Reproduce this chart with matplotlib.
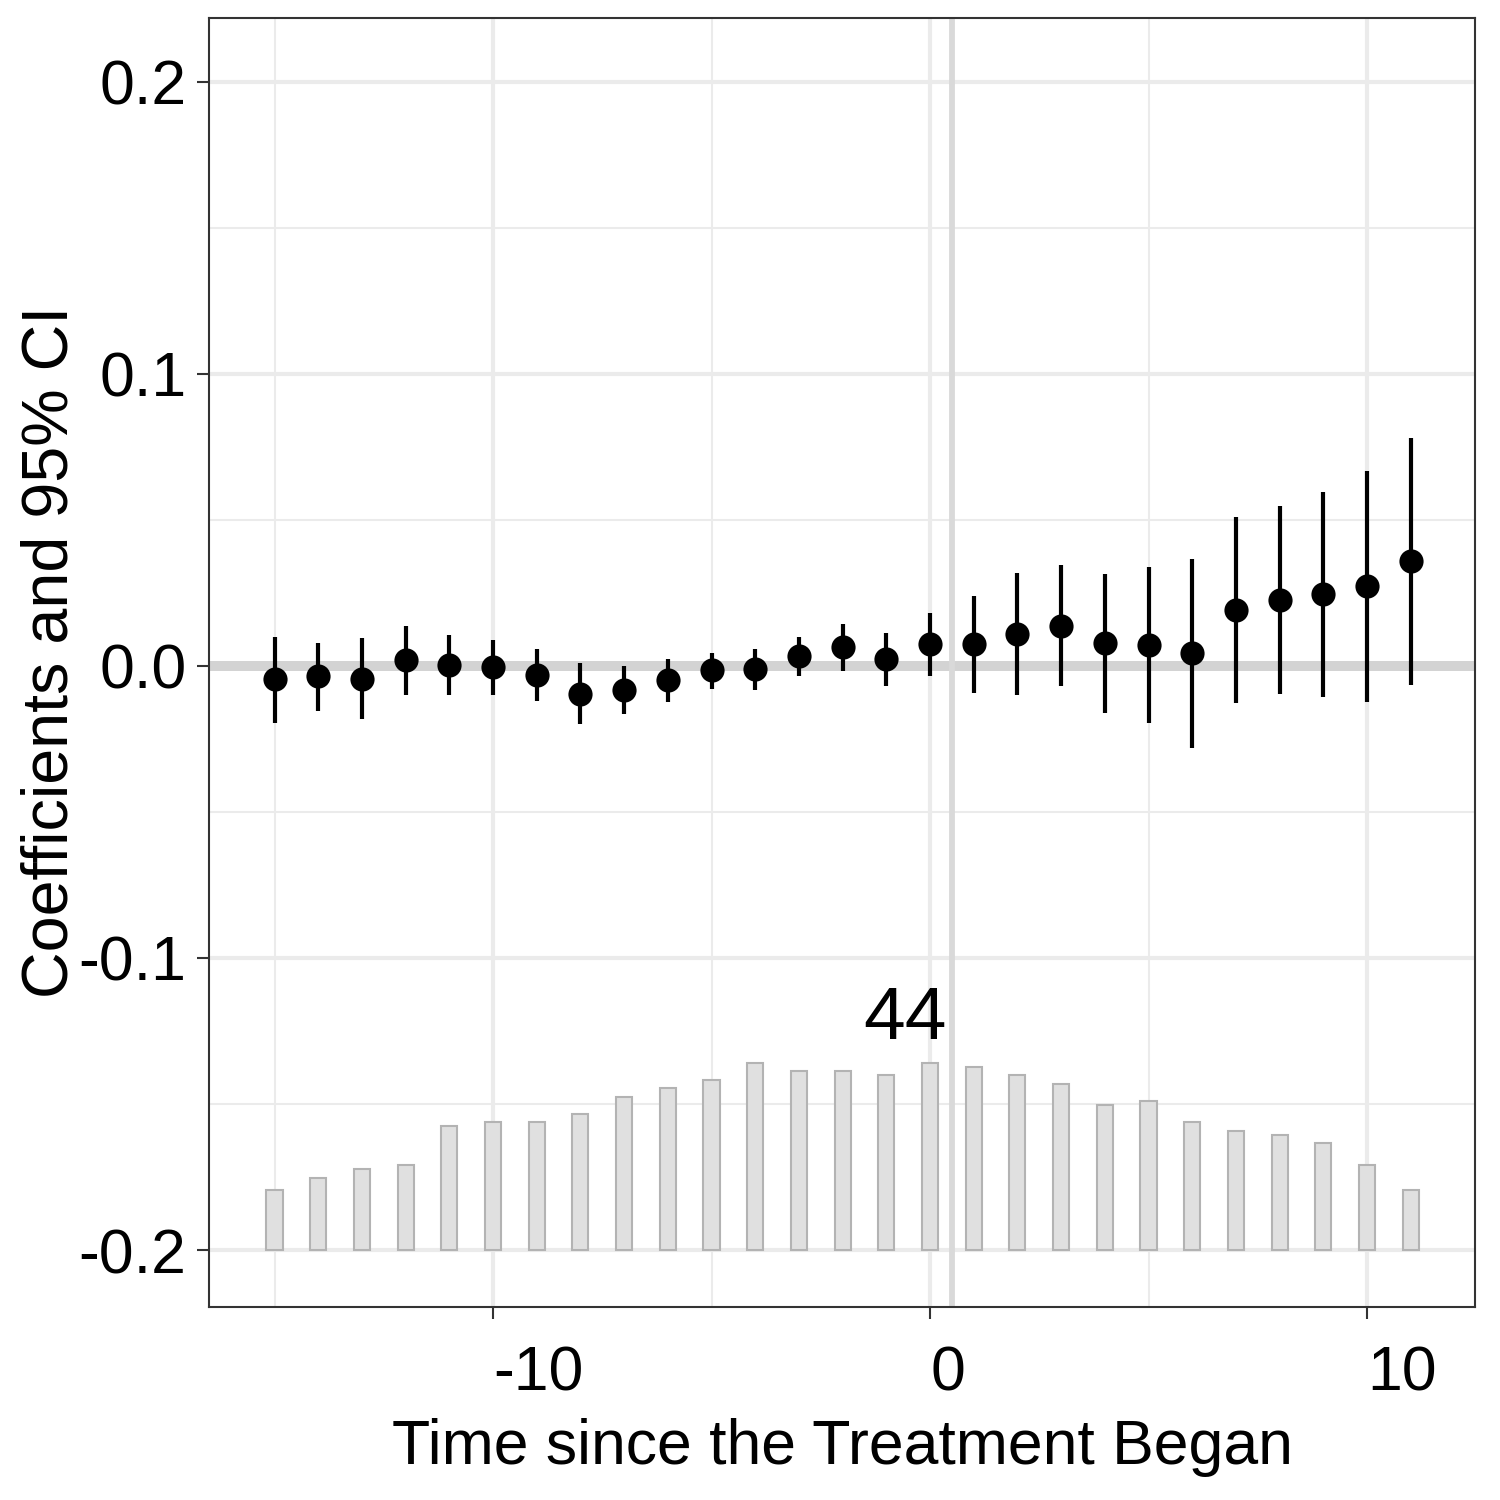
import matplotlib
matplotlib.use("Agg")
import matplotlib.pyplot as plt
import numpy as np

plt.rcParams['font.family'] = ['Liberation Sans', 'DejaVu Sans']

# ---- data ----
time = list(range(-15, 12))
coef = [-0.0045, -0.0036, -0.0043, 0.0019, 0.0003, -0.0004, -0.0031, -0.0095, -0.0081, -0.0048,
        -0.0014, -0.0011, 0.0033, 0.0065, 0.0023, 0.0075, 0.0075, 0.0110, 0.0138, 0.0078,
        0.0073, 0.0043, 0.0192, 0.0226, 0.0246, 0.0273, 0.0359]
ci_upper = [0.0100, 0.0079, 0.0096, 0.0138, 0.0106, 0.0088, 0.0058, 0.0010, 0.0000, 0.0025,
            0.0045, 0.0058, 0.0099, 0.0145, 0.0113, 0.0180, 0.0240, 0.0318, 0.0346, 0.0315,
            0.0340, 0.0366, 0.0511, 0.0548, 0.0597, 0.0669, 0.0782]
ci_lower = [-0.0194, -0.0153, -0.0183, -0.0098, -0.0101, -0.0098, -0.0121, -0.0199, -0.0163, -0.0123,
            -0.0078, -0.0083, -0.0033, -0.0016, -0.0067, -0.0033, -0.0091, -0.0098, -0.0068, -0.0162,
            -0.0194, -0.0280, -0.0128, -0.0095, -0.0106, -0.0123, -0.0065]
counts = [14, 17, 19, 20, 29, 30, 30, 32, 36, 38, 40, 44, 42, 42, 41, 44, 43, 41, 39, 34,
          35, 30, 28, 27, 25, 20, 14]
max_count_label = "44"

x_ticks = [-10, 0, 10]
x_tick_labels = ["-10", "0", "10"]
y_ticks = [-0.2, -0.1, 0.0, 0.1, 0.2]
y_tick_labels = ["-0.2", "-0.1", "0.0", "0.1", "0.2"]

# ---- figure ----
fig = plt.figure(figsize=(5, 5), dpi=300)
ax = fig.add_axes([0.1393, 0.1287, 0.844, 0.8593])

xlim = (-16.5, 12.47)
ylim = (-0.2195, 0.2219)

# grid
grid_major = '#EBEBEB'
for v in [-0.15, -0.05, 0.05, 0.15]:
    ax.axhline(v, color=grid_major, lw=0.5, zorder=0)
for v in [-15, -5, 5]:
    ax.axvline(v, color=grid_major, lw=0.5, zorder=0)
for v in y_ticks:
    ax.axhline(v, color=grid_major, lw=1.0, zorder=0)
for v in x_ticks:
    ax.axvline(v, color=grid_major, lw=1.0, zorder=0)

# reference lines
ax.axhline(0, color='#D3D3D3', lw=2.4, zorder=1)
ax.axvline(0.5, color='#D9D9D9', lw=1.4, zorder=1)

# count bars
bar_base = -0.2
bar_scale = 0.0642 / 44
heights = [c * bar_scale for c in counts]
ax.bar(time, heights, bottom=bar_base, width=0.37, color='#E0E0E0',
       edgecolor='#B3B3B3', linewidth=0.5, zorder=2)
ax.text(-0.57, bar_base + max(heights) + 0.0149, max_count_label, ha='center', va='center',
        fontsize=18, color='black', zorder=3)

# coefficients and CI
ax.vlines(time, ci_lower, ci_upper, color='black', lw=1.0, zorder=4)
ax.plot(time, coef, 'o', color='black', markersize=4.8, zorder=5)

ax.set_xlim(*xlim)
ax.set_ylim(*ylim)
ax.set_xticks(x_ticks)
ax.set_xticklabels(x_tick_labels, ha='left')
ax.set_yticks(y_ticks)
ax.set_yticklabels(y_tick_labels)
ax.tick_params(axis='both', labelsize=15, colors='#333333', length=2.9, width=0.5,
               labelcolor='black', pad=2.5)
ax.tick_params(axis='x', pad=6)
for s in ax.spines.values():
    s.set_color('#333333')
    s.set_linewidth(0.5)

ax.set_xlabel("Time since the Treatment Began", fontsize=15, labelpad=3.5)
ax.set_ylabel("Coefficients and 95% CI", fontsize=15.5, labelpad=-0.5)
ax.yaxis.label.set_y(0.508)

fig.savefig("out.png", dpi=300)
